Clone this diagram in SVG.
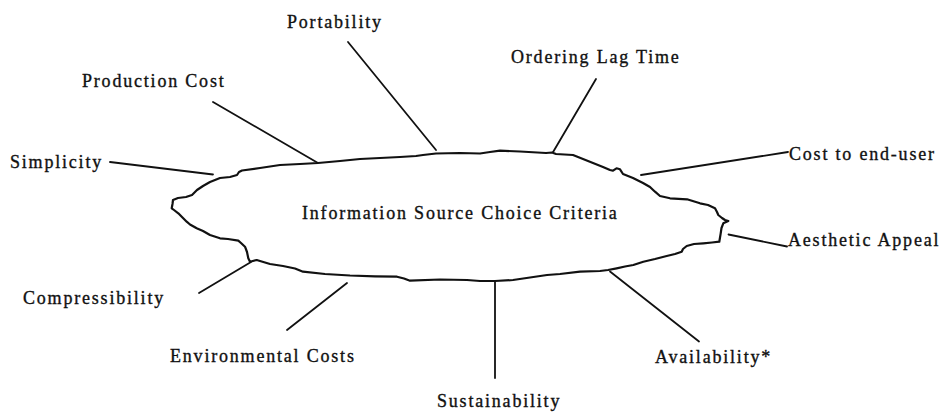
<svg xmlns="http://www.w3.org/2000/svg" width="947" height="415" viewBox="0 0 947 415">
<style>
text{font-family:"Liberation Serif","Times New Roman",serif;font-size:18px;letter-spacing:1.8px;fill:#111;stroke:#111;stroke-width:0.35px}
.c{stroke:#111;stroke-width:1.8;fill:none;stroke-linecap:round}
.blob{stroke:#111;stroke-width:2.2;fill:#fff;stroke-linejoin:round}
</style>
<rect width="947" height="415" fill="#fff"/>
<g id="connectors">
<line class="c" x1="110" y1="162" x2="213" y2="174.5"/>
<line class="c" x1="213" y1="102" x2="318" y2="163"/>
<line class="c" x1="348" y1="42" x2="436" y2="150"/>
<line class="c" x1="596" y1="79" x2="552.5" y2="153"/>
<line class="c" x1="641" y1="175" x2="788" y2="152"/>
<line class="c" x1="728.5" y1="234.5" x2="787" y2="246.5"/>
<line class="c" x1="610" y1="271.5" x2="699" y2="341.5"/>
<line class="c" x1="495" y1="281" x2="495" y2="378"/>
<line class="c" x1="287" y1="330" x2="347" y2="283"/>
<line class="c" x1="199" y1="293" x2="251" y2="262"/>
<line class="c" x1="252" y1="260" x2="257.5" y2="257.5"/>
</g>
<g id="center">
<path class="blob" d="M173,200 L178,198 L186,197 L192,195 L197,190 L203,186 L210,182 L220,178 L230,177 L237,175 L239,172 L242,170.5 L260,168 L280,165 L300,164 L318,163 L340,161 L360,159 L380,158 L400,157 L416,156 L423,155 L436,153.5 L460,153 L480,153.5 L490,152 L500,150.7 L520,151.5 L546,153 L552,152.5 L556,154 L573,155 L583,159 L593,163 L603,167 L610,170 L613,170.7 L616.5,168.3 L620,169.3 L623,174 L633,178 L643,183 L650,187 L655,191.7 L660,196 L670,198.3 L687,199.3 L700,203.3 L708,205 L715,208.3 L717,212 L718.3,215 L722,218 L725,220 L728.3,221 L723.3,223.3 L721.5,228 L720.7,233.3 L719.3,241.7 L712,242.5 L703.3,243.3 L694,244 L686.7,246 L683,249 L681.7,251.7 L675,254 L666.7,256 L655,259 L643.3,261.7 L633.3,265 L625,266.5 L616.7,268.3 L608,270 L600,271 L580,271.7 L560,274 L547,275 L530,277.5 L513,280 L495,281 L480,281 L467,280 L440,279.5 L410,280.7 L404,278.5 L397,276.7 L375,276.3 L350,275.5 L325,274 L303,271.7 L295,268.5 L283,266 L270,264 L256.7,260 L250,261.7 L248.3,258.3 L247,252 L245,246.7 L241,243 L238.3,240.7 L228,239 L220,238.3 L210,235 L203,231 L196.7,228.3 L190,224.5 L186.7,221.7 L182,217 L178.3,213.3 L174,210 L171.7,208.3 L172.5,204 Z"/>
<text x="302" y="219">Information Source Choice Criteria</text>
</g>
<g id="n-portability"><text x="287" y="28">Portability</text></g>
<g id="n-production-cost"><text x="82" y="87">Production Cost</text></g>
<g id="n-ordering-lag-time"><text x="511" y="63">Ordering Lag Time</text></g>
<g id="n-simplicity"><text x="10" y="168">Simplicity</text></g>
<g id="n-cost-to-end-user"><text x="789" y="160">Cost to end-user</text></g>
<g id="n-aesthetic-appeal"><text x="788" y="246">Aesthetic Appeal</text></g>
<g id="n-compressibility"><text x="23" y="304">Compressibility</text></g>
<g id="n-environmental-costs"><text x="170" y="362">Environmental Costs</text></g>
<g id="n-availability"><text x="655" y="363">Availability*</text></g>
<g id="n-sustainability"><text x="437" y="407">Sustainability</text></g>
</svg>
